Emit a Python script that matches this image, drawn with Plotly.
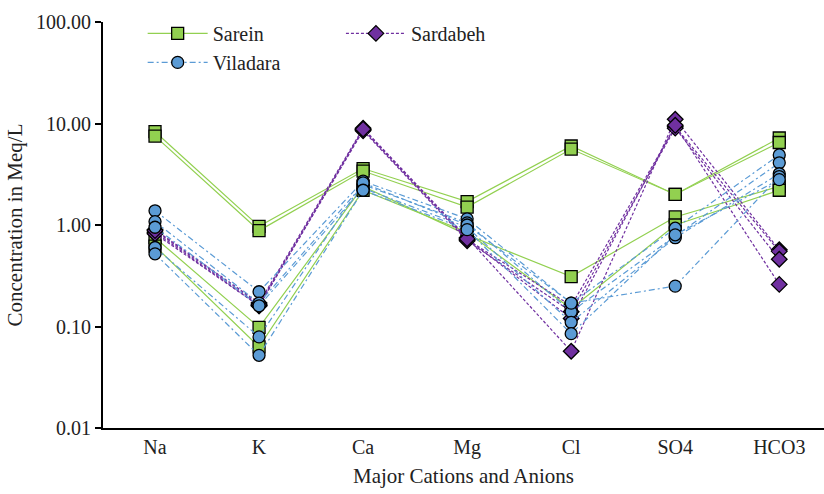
import plotly.graph_objects as go

categories = ["Na", "K", "Ca", "Mg", "Cl", "SO4", "HCO3"]

sarein = [
    [8.3, 0.97, 3.6, 1.70, 6.0, 2.0, 7.2],
    [7.5, 0.88, 3.4, 1.50, 5.6, 2.0, 6.5],
    [0.75, 0.098, 2.4, 0.80, 0.31, 1.2, 2.4],
    [0.62, 0.063, 2.2, 0.85, 0.15, 1.0, 2.2],
]
sardabeh = [
    [0.90, 0.17, 9.0, 0.75, 0.057, 11.0, 0.57],
    [0.85, 0.16, 8.7, 0.72, 0.16, 9.3, 0.55],
    [0.82, 0.16, 8.5, 0.70, 0.14, 9.0, 0.46],
    [0.88, 0.165, 8.8, 0.73, 0.12, 9.6, 0.26],
]
viladara = [
    [1.38, 0.22, 2.7, 1.15, 0.17, 0.93, 4.9],
    [1.08, 0.17, 2.5, 1.05, 0.14, 0.78, 4.1],
    [0.95, 0.16, 2.3, 0.95, 0.11, 0.75, 3.2],
    [0.60, 0.079, 2.6, 1.00, 0.17, 0.25, 3.0],
    [0.52, 0.052, 2.2, 0.90, 0.085, 0.80, 2.8],
]

ytickvals = [0.01, 0.1, 1, 10, 100]
yticktext = ["0.01", "0.10", "1.00", "10.00", "100.00"]

FONT = "Liberation Serif"
TXT = "#222222"

groups = [
    ("Sarein", sarein, "#92d050", "solid", "square", "legend"),
    ("Sardabeh", sardabeh, "#7030a0", "3px,2px", "diamond", "legend2"),
    ("Viladara", viladara, "#5b9bd5", "6px,3px,2px,3px", "circle", "legend"),
]

fig = go.Figure()
for name, data, color, dash, symbol, leg in groups:
    label = "<span style='font-family:\"Liberation Serif\", serif'>" + name + "</span>"
    for i, vals in enumerate(data):
        fig.add_trace(go.Scatter(
            x=categories, y=vals, name=label, legendgroup=name,
            showlegend=(i == 0), legend=leg,
            mode="lines+markers",
            line=dict(color=color, width=1.2, dash=dash),
            marker=dict(symbol=symbol, size=12, color=color,
                        line=dict(color="#000000", width=1.3)),
        ))

legfont = dict(family=FONT, size=20, color=TXT)
fig.update_layout(
    width=824, height=494,
    margin=dict(l=103, r=0, t=22, b=66),
    paper_bgcolor="white", plot_bgcolor="white",
    font=dict(family=FONT, size=20, color=TXT),
    legend=dict(x=0.055, y=1.02, xanchor="left", yanchor="top",
                bgcolor="rgba(0,0,0,0)", font=legfont,
                tracegroupgap=0, itemwidth=60),
    legend2=dict(x=0.33, y=1.02, xanchor="left", yanchor="top",
                 bgcolor="rgba(0,0,0,0)", font=legfont, itemwidth=60),
    xaxis=dict(
        type="category", categoryorder="array", categoryarray=categories,
        range=[-0.5, 6.43], showgrid=False, zeroline=False,
        showline=True, linecolor="#000000", linewidth=2,
        ticks="", tickfont=dict(size=20, family=FONT, color=TXT),
        title=dict(text="Major Cations and Anions",
                   font=dict(size=21, family=FONT, color=TXT), standoff=10),
    ),
    yaxis=dict(
        type="log", range=[-2, 2], showgrid=False, zeroline=False,
        showline=True, linecolor="#000000", linewidth=2,
        ticks="outside", ticklen=6, tickwidth=2, tickcolor="#000000",
        tickvals=ytickvals, ticktext=yticktext,
        tickfont=dict(size=20, family=FONT, color=TXT),
        title=dict(text="Concentration in Meq/L",
                   font=dict(size=21, family=FONT, color=TXT), standoff=8),
    ),
)

fig.write_html("out.html")
